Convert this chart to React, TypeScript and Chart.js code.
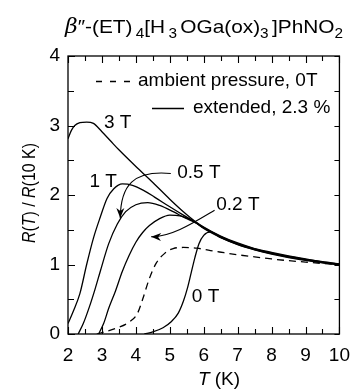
import React, { useEffect, useRef } from 'react';
import { Chart, registerables } from 'chart.js';
Chart.register(...registerables);

const FONT = 'Arial, "Liberation Sans", Helvetica, sans-serif';

// ---- data (T in K, R(T)/R(10 K)) ----
const T_3T = [2.0, 2.1, 2.2, 2.35, 2.55, 2.75, 3.0, 3.25, 3.5, 4.0, 4.5, 5.0, 5.4, 5.75, 6.0, 6.5, 7.0, 7.5, 8.0, 8.5, 9.0, 9.5, 10.0];
const R_3T = [2.81, 2.93, 3.0, 3.04, 3.05, 3.03, 2.91, 2.78, 2.65, 2.41, 2.18, 1.94, 1.76, 1.62, 1.54, 1.41, 1.31, 1.23, 1.175, 1.125, 1.08, 1.04, 1.01];

const T_1T = [2.0, 2.15, 2.35, 2.55, 2.75, 2.95, 3.15, 3.35, 3.6, 3.9, 4.25, 4.55, 5.0, 5.4, 5.75, 6.0, 6.5, 7.0, 7.5, 8.0, 8.5, 9.0, 9.5, 10.0];
const R_1T = [0.15, 0.32, 0.58, 1.0, 1.38, 1.68, 1.95, 2.09, 2.16, 2.14, 2.06, 1.97, 1.83, 1.71, 1.61, 1.53, 1.40, 1.30, 1.225, 1.165, 1.115, 1.075, 1.035, 1.005];

const T_05T = [2.3, 2.45, 2.63, 2.8, 2.95, 3.2, 3.45, 3.7, 4.0, 4.35, 4.7, 5.1, 5.45, 5.75, 6.0, 6.5, 7.0, 7.5, 8.0, 8.5, 9.0, 9.5, 10.0];
const R_05T = [0, 0.15, 0.39, 0.65, 0.9, 1.3, 1.58, 1.76, 1.86, 1.89, 1.85, 1.76, 1.67, 1.6, 1.525, 1.395, 1.295, 1.22, 1.16, 1.11, 1.07, 1.03, 1.0];

const T_02T = [2.9, 3.05, 3.2, 3.4, 3.6, 3.8, 4.0, 4.2, 4.4, 4.7, 5.0, 5.3, 5.55, 5.75, 6.0, 6.5, 7.0, 7.5, 8.0, 8.5, 9.0, 9.5, 10.0];
const R_02T = [0, 0.15, 0.37, 0.62, 0.9, 1.13, 1.32, 1.46, 1.56, 1.66, 1.71, 1.70, 1.66, 1.61, 1.52, 1.39, 1.29, 1.215, 1.155, 1.105, 1.065, 1.028, 1.0];

const T_0T = [4.25, 4.5, 4.8, 5.05, 5.25, 5.4, 5.52, 5.63, 5.74, 5.86, 6.0, 6.2, 6.5, 7.0, 7.5, 8.0, 8.5, 9.0, 9.5, 10.0];
const R_0T = [0, 0.03, 0.09, 0.18, 0.3, 0.47, 0.66, 0.88, 1.1, 1.3, 1.42, 1.47, 1.385, 1.285, 1.21, 1.15, 1.10, 1.06, 1.025, 0.995];

const T_AMB = [2.85, 3.0, 3.4, 3.8, 4.05, 4.2, 4.4, 4.6, 4.85, 5.1, 5.4, 5.8, 6.2, 6.6, 7.0, 7.5, 8.0, 8.5, 9.0, 9.5, 10.0];
const R_AMB = [0, 0.02, 0.08, 0.17, 0.3, 0.5, 0.8, 1.02, 1.16, 1.23, 1.245, 1.235, 1.2, 1.17, 1.14, 1.11, 1.08, 1.055, 1.035, 1.015, 1.0];

// curve labels (data coordinates: left edge, vertical centre)
const LABEL_TEXT = ['3 T', '1 T', '0.5 T', '0.2 T', '0 T'];
const LABEL_T = [3.06, 2.63, 5.22, 6.37, 5.65];
const LABEL_R = [3.04, 2.19, 2.32, 1.86, 0.53];

// arrows (cubic curves, data coordinates: start, c1, c2, end)
const ARROW_05_T = [5.03, 3.93, 3.55, 3.54];
const ARROW_05_R = [2.31, 2.36, 2.14, 1.67];
const ARROW_02_T = [6.32, 5.70, 5.03, 4.45];
const ARROW_02_R = [1.78, 1.60, 1.39, 1.40];

const LEGEND_AMB = 'ambient pressure, 0T';
const LEGEND_EXT = 'extended, 2.3 %';

const X_MIN = 2, X_MAX = 10, Y_MIN = 0, Y_MAX = 4;

function pts(t: number[], r: number[]) {
  return t.map((x, i) => ({ x, y: r[i] }));
}

function lineDs(t: number[], r: number[], dash: number[] = []) {
  return {
    data: pts(t, r),
    borderColor: '#000',
    borderWidth: 1.3,
    borderDash: dash,
    pointRadius: 0,
    fill: false,
    tension: 0.4,
    cubicInterpolationMode: 'monotone' as const,
  };
}

function drawPieces(ctx: CanvasRenderingContext2D, pieces: { t: string; f: string; dy?: number; gap?: number }[], x: number, y: number) {
  let cx = x;
  for (const p of pieces) {
    ctx.font = p.f;
    cx += p.gap || 0;
    ctx.fillText(p.t, cx, y + (p.dy || 0));
    cx += ctx.measureText(p.t).width;
  }
  return cx - x;
}

function measurePieces(ctx: CanvasRenderingContext2D, pieces: { t: string; f: string; dy?: number; gap?: number }[]) {
  let w = 0;
  for (const p of pieces) {
    ctx.font = p.f;
    w += (p.gap || 0) + ctx.measureText(p.t).width;
  }
  return w;
}

const decor = {
  id: 'decor',
  afterDraw(chart: any) {
    const ctx: CanvasRenderingContext2D = chart.ctx;
    const { left, right, top, bottom } = chart.chartArea;
    const xs = chart.scales.x;
    const ys = chart.scales.y;
    const px = (v: number) => xs.getPixelForValue(v);
    const py = (v: number) => ys.getPixelForValue(v);
    ctx.save();
    ctx.strokeStyle = '#000';
    ctx.fillStyle = '#000';
    ctx.lineWidth = 1.3;
    // frame
    ctx.strokeRect(left, top, right - left, bottom - top);
    // ticks
    ctx.lineWidth = 1.1;
    ctx.beginPath();
    for (let v = X_MIN; v <= X_MAX + 1e-9; v += 0.5) {
      const x = Math.round(px(v)) + 0.5;
      const major = Math.abs(v - Math.round(v)) < 1e-9;
      const l = major ? 7 : 5;
      ctx.moveTo(x, bottom); ctx.lineTo(x, bottom - l);
      ctx.moveTo(x, top); ctx.lineTo(x, top + l);
    }
    for (let v = Y_MIN; v <= Y_MAX + 1e-9; v += 0.5) {
      const y = Math.round(py(v)) + 0.5;
      const major = Math.abs(v - Math.round(v)) < 1e-9;
      const l = major ? 7 : 6;
      ctx.moveTo(left, y); ctx.lineTo(left + l, y);
      ctx.moveTo(right, y); ctx.lineTo(right - 5, y);
    }
    ctx.stroke();

    // title
    const main = `19px ${FONT}`;
    const sub = `14px ${FONT}`;
    const title = [
      { t: 'β', f: `italic 20px "DejaVu Serif", "Liberation Serif", serif` },
      { t: '″-(ET)', f: main },
      { t: '4', f: sub, dy: 5, gap: 3 },
      { t: '[H', f: main },
      { t: '3', f: sub, dy: 5, gap: 3 },
      { t: 'OGa(ox)', f: main, gap: 3 },
      { t: '3', f: sub, dy: 5 },
      { t: ']PhNO', f: main, gap: 3 },
      { t: '2', f: sub, dy: 5 },
    ];
    ctx.textBaseline = 'alphabetic';
    ctx.textAlign = 'left';
    const tw = measurePieces(ctx, title);
    ctx.save();
    ctx.translate(65, 33);
    ctx.scale(278 / tw, 1);
    drawPieces(ctx, title, 0, 0);
    ctx.restore();

    // y axis title
    const yt = [
      { t: 'R', f: `italic 18px ${FONT}` },
      { t: '(', f: `18px ${FONT}` },
      { t: 'T', f: `italic 18px ${FONT}` },
      { t: ') / ', f: `18px ${FONT}` },
      { t: 'R', f: `italic 18px ${FONT}` },
      { t: '(10 K)', f: `18px ${FONT}` },
    ];
    const yw = measurePieces(ctx, yt);
    ctx.save();
    ctx.translate(30, 193);
    ctx.rotate(-Math.PI / 2);
    ctx.scale(100 / yw, 1);
    ctx.textBaseline = 'middle';
    drawPieces(ctx, yt, -yw / 2, 0);
    ctx.restore();

    // x axis title
    const xt = [
      { t: 'T', f: `italic 19px ${FONT}` },
      { t: ' (K)', f: `19px ${FONT}` },
    ];
    const xw = measurePieces(ctx, xt);
    ctx.textBaseline = 'middle';
    drawPieces(ctx, xt, 219 - xw / 2, 380);

    // legend
    ctx.font = `19px ${FONT}`;
    ctx.textBaseline = 'middle';
    const ly1 = top + 25, ly2 = top + 52;
    ctx.lineWidth = 1.3;
    ctx.beginPath();
    for (let i = 0; i < 3; i++) {
      const x0 = left + 28 + i * 14;
      ctx.moveTo(x0, ly1 + 0.5); ctx.lineTo(x0 + 6, ly1 + 0.5);
    }
    ctx.moveTo(left + 84, ly2 + 0.5); ctx.lineTo(left + 116, ly2 + 0.5);
    ctx.stroke();
    ctx.fillText(LEGEND_AMB, left + 70, ly1);
    ctx.fillText(LEGEND_EXT, left + 125, ly2);

    // curve labels
    LABEL_TEXT.forEach((s, i) => {
      ctx.fillText(s, px(LABEL_T[i]), py(LABEL_R[i]));
    });

    // arrows
    const arrow = (T: number[], R: number[]) => {
      const p = T.map((t, i) => [px(t), py(R[i])]);
      ctx.lineWidth = 1.1;
      ctx.beginPath();
      ctx.moveTo(p[0][0], p[0][1]);
      ctx.bezierCurveTo(p[1][0], p[1][1], p[2][0], p[2][1], p[3][0], p[3][1]);
      ctx.stroke();
      const ang = Math.atan2(p[3][1] - p[2][1], p[3][0] - p[2][0]);
      const L = 10, W = 4;
      const ex = p[3][0], ey = p[3][1];
      const bx = ex - L * Math.cos(ang), by = ey - L * Math.sin(ang);
      const nx = -Math.sin(ang), ny = Math.cos(ang);
      const mx = ex - 0.7 * L * Math.cos(ang), my = ey - 0.7 * L * Math.sin(ang);
      ctx.beginPath();
      ctx.moveTo(ex, ey);
      ctx.lineTo(bx + W * nx, by + W * ny);
      ctx.lineTo(mx, my);
      ctx.lineTo(bx - W * nx, by - W * ny);
      ctx.closePath();
      ctx.fill();
    };
    arrow(ARROW_05_T, ARROW_05_R);
    arrow(ARROW_02_T, ARROW_02_R);
    ctx.restore();
  },
};

export default function App() {
  const ref = useRef<HTMLCanvasElement>(null);
  useEffect(() => {
    const canvas = ref.current!;
    const chart = new Chart(canvas, {
      type: 'line',
      data: {
        datasets: [
          lineDs(T_AMB, R_AMB, [7, 5]),
          lineDs(T_3T, R_3T),
          lineDs(T_1T, R_1T),
          lineDs(T_05T, R_05T),
          lineDs(T_02T, R_02T),
          lineDs(T_0T, R_0T),
        ],
      },
      options: {
        animation: false,
        responsive: false,
        maintainAspectRatio: false,
        devicePixelRatio: 1,
        layout: { padding: { top: 56, right: 14, left: 0, bottom: 0 } },
        plugins: { legend: { display: false }, tooltip: { enabled: false }, title: { display: false } },
        elements: { point: { radius: 0 } },
        scales: {
          x: {
            type: 'linear',
            min: X_MIN,
            max: X_MAX,
            ticks: { stepSize: 1, font: { family: FONT, size: 19 }, color: '#000', padding: 10, maxRotation: 0, autoSkip: false },
            grid: { display: false, drawTicks: false },
            border: { display: false },
            afterFit: (s: any) => { s.height = 58; },
          },
          y: {
            type: 'linear',
            min: Y_MIN,
            max: Y_MAX,
            ticks: { stepSize: 1, font: { family: FONT, size: 19 }, color: '#000', padding: 8 },
            grid: { display: false, drawTicks: false },
            border: { display: false },
            afterFit: (s: any) => { s.width = 68; },
          },
        },
      } as any,
      plugins: [decor],
    });
    return () => chart.destroy();
  }, []);
  return (
    <div style={{ position: 'absolute', left: 0, top: 0, width: 360, height: 392, background: '#fff' }}>
      <canvas ref={ref} width={360} height={392} style={{ width: 360, height: 392, display: 'block' }} />
    </div>
  );
}
